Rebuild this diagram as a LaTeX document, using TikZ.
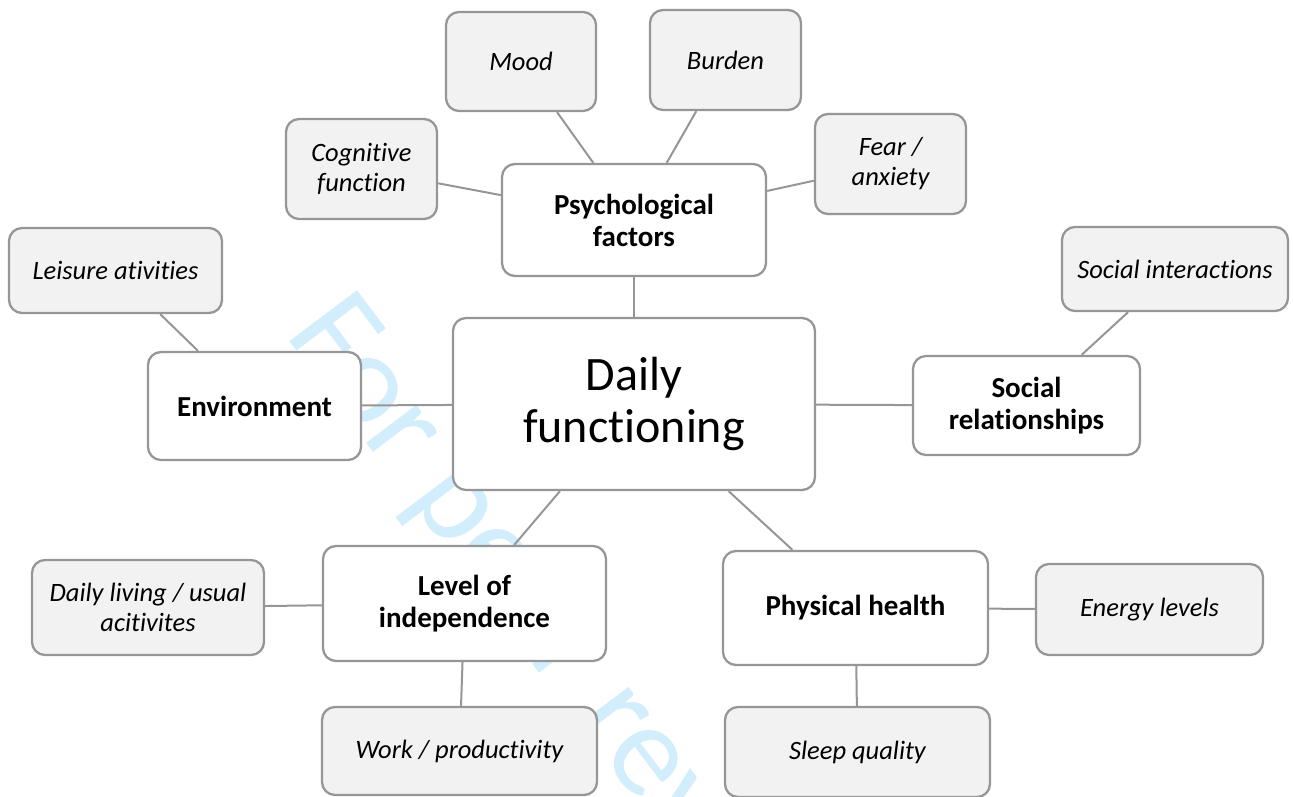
\documentclass[tikz,border=0pt]{standalone}
\usepackage{fontspec}
\setmainfont{Carlito}[Ligatures={NoCommon}]
\usepackage{tikz}

\definecolor{boxline}{RGB}{150,150,150}
\definecolor{leaffill}{RGB}{242,242,242}
\definecolor{wmblue}{RGB}{210,238,252}

\begin{document}
\begin{tikzpicture}[x=1pt,y=1pt,yscale=-1,xscale=1,
  box/.style={draw=boxline, line width=2.3pt, rounded corners=13pt, fill=white, align=center, inner sep=0pt},
  hub/.style={box, font=\bfseries\fontsize{29}{32}\selectfont},
  leaf/.style={box, fill=leaffill, font=\itshape\fontsize{26.5}{30}\selectfont},
  link/.style={draw=boxline, line width=2pt}]
\path[use as bounding box] (0,0) rectangle (1293,797);

% Watermark
\node[text=wmblue, font=\fontsize{132}{132}\selectfont, rotate=-53, anchor=base west, inner sep=0pt] (stamp) at (284,334) {For peer review};

% Centre
\node[box, minimum width=362, minimum height=172, font=\fontsize{48}{52}\selectfont] (daily) at (634,404) {Daily\\functioning};

% Main factors
\node[hub, minimum width=264, minimum height=112] (psych) at (634,220) {Psychological\\factors};
\node[hub, minimum width=213, minimum height=108] (env) at (254.5,406) {Environment};
\node[hub, minimum width=227, minimum height=99] (socrel) at (1026.5,405.5) {Social\\relationships};
\node[hub, minimum width=283, minimum height=115] (level) at (464.5,603.5) {Level of\\independence};
\node[hub, minimum width=265, minimum height=114] (phys) at (855.5,608) {Physical health};

% Sub factors
\node[leaf, minimum width=150, minimum height=99] (mood) at (521,61.5) {Mood};
\node[leaf, minimum width=151, minimum height=100] (burden) at (725.5,60) {Burden};
\node[leaf, minimum width=151, minimum height=100] (cogn) at (361.5,169) {Cognitive\\function};
\node[leaf, minimum width=151, minimum height=100] (fear) at (890.5,164) {Fear /\\anxiety};
\node[leaf, minimum width=213, minimum height=85] (leisure) at (115.5,270.5) {Leisure ativities};
\node[leaf, minimum width=226, minimum height=84] (socint) at (1175,269) {Social interactions};
\node[leaf, minimum width=232, minimum height=95] (living) at (148,607.5) {Daily living / usual\\acitivites};
\node[leaf, minimum width=227, minimum height=91] (energy) at (1149.5,609.5) {Energy levels};
\node[leaf, minimum width=275, minimum height=88] (work) at (459.5,751) {Work / productivity};
\node[leaf, minimum width=265, minimum height=90] (sleep) at (857.5,752) {Sleep quality};

% Links
\draw[link] (daily) -- (psych);
\draw[link] (daily) -- (env);
\draw[link] (daily) -- (socrel);
\draw[link] (daily) -- (level);
\draw[link] (daily) -- (phys);
\draw[link] (psych) -- (mood);
\draw[link] (psych) -- (burden);
\draw[link] (psych) -- (cogn);
\draw[link] (psych) -- (fear);
\draw[link] (env) -- (leisure);
\draw[link] (socrel) -- (socint);
\draw[link] (level) -- (living);
\draw[link] (level) -- (work);
\draw[link] (phys) -- (energy);
\draw[link] (phys) -- (sleep);

\end{tikzpicture}
\end{document}
